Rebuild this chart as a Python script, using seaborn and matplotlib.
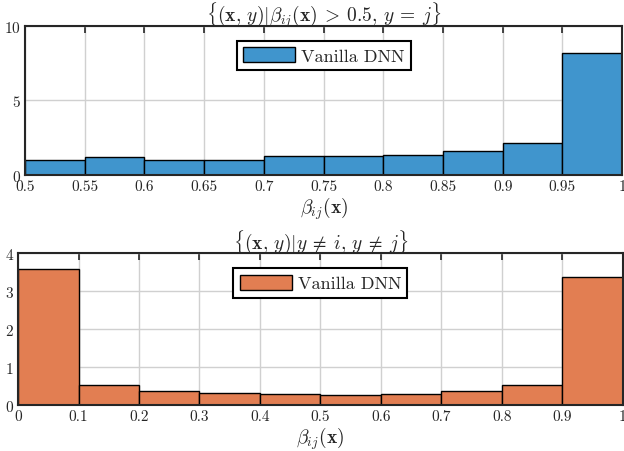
import numpy as np
import pandas as pd
import matplotlib.pyplot as plt
import seaborn as sns

# top panel: beta > 0.5, y = j
top_edges = [0.5, 0.55, 0.6, 0.65, 0.7, 0.75, 0.8, 0.85, 0.9, 0.95, 1.0]
top_heights = [0.97, 1.17, 1.02, 0.98, 1.26, 1.27, 1.33, 1.57, 2.13, 8.17]

# bottom panel: y != i, y != j
bot_edges = [0.0, 0.1, 0.2, 0.3, 0.4, 0.5, 0.6, 0.7, 0.8, 0.9, 1.0]
bot_heights = [3.59, 0.53, 0.37, 0.31, 0.28, 0.27, 0.30, 0.36, 0.53, 3.38]

sns.set_style("white")
plt.rcParams['font.family'] = ['cmr10']
plt.rcParams['mathtext.fontset'] = 'cm'
plt.rcParams['axes.formatter.use_mathtext'] = True
plt.rcParams['font.size'] = 11

fig = plt.figure(figsize=(6.24, 4.52), dpi=100)
ax1 = fig.add_axes([0.040, 0.611, 0.957, 0.329])
ax2 = fig.add_axes([0.029, 0.102, 0.969, 0.336])


def draw(ax, edges, heights, color, title, xticks, yticks, ylim):
    e = np.array(edges)
    df = pd.DataFrame({"x": (e[:-1] + e[1:]) / 2, "w": heights})
    sns.histplot(data=df, x="x", weights="w", bins=list(edges), ax=ax, color=color,
                 alpha=1.0, edgecolor="black", linewidth=1.0, label="Vanilla DNN")
    ax.set_xlim(edges[0], edges[-1])
    ax.set_ylim(*ylim)
    ax.set_xticks(xticks)
    ax.set_xticklabels([f"{t:g}" for t in xticks])
    ax.set_yticks(yticks)
    ax.grid(True, color="#d0d0d0", linewidth=1.0)
    ax.set_axisbelow(True)
    ax.tick_params(direction="in", length=5, width=1.2, top=True, right=True,
                   labelsize=11, pad=3, colors="#262626")
    for s in ax.spines.values():
        s.set_linewidth(1.5)
        s.set_color("#262626")
    ax.set_ylabel("")
    ax.set_xlabel(r"$\beta_{ij}(\mathbf{x})$", fontsize=14, labelpad=1)
    ax.set_title(title, fontsize=14, pad=4)
    leg = ax.legend(loc="upper center", bbox_to_anchor=(0.5, 0.90), fancybox=False,
                    fontsize=13, handlelength=2.9, handleheight=0.9,
                    borderpad=0.35, handletextpad=0.3, borderaxespad=0, framealpha=1)
    leg.get_frame().set_edgecolor("black")
    leg.get_frame().set_linewidth(1.5)


draw(ax1, top_edges, top_heights, "#4095cd",
     r"$\{(\mathbf{x},\,y)|\beta_{ij}(\mathbf{x})\:>\:0.5,\,y\:=\:j\}$",
     [0.5, 0.55, 0.6, 0.65, 0.7, 0.75, 0.8, 0.85, 0.9, 0.95, 1.0], [0, 5, 10], (0, 10))
draw(ax2, bot_edges, bot_heights, "#e27e52",
     r"$\{(\mathbf{x},\,y)|y\:\neq\:i,\,y\:\neq\:j\}$",
     [0, 0.1, 0.2, 0.3, 0.4, 0.5, 0.6, 0.7, 0.8, 0.9, 1.0], [0, 1, 2, 3, 4], (0, 4))

fig.savefig("out.png", dpi=100)
